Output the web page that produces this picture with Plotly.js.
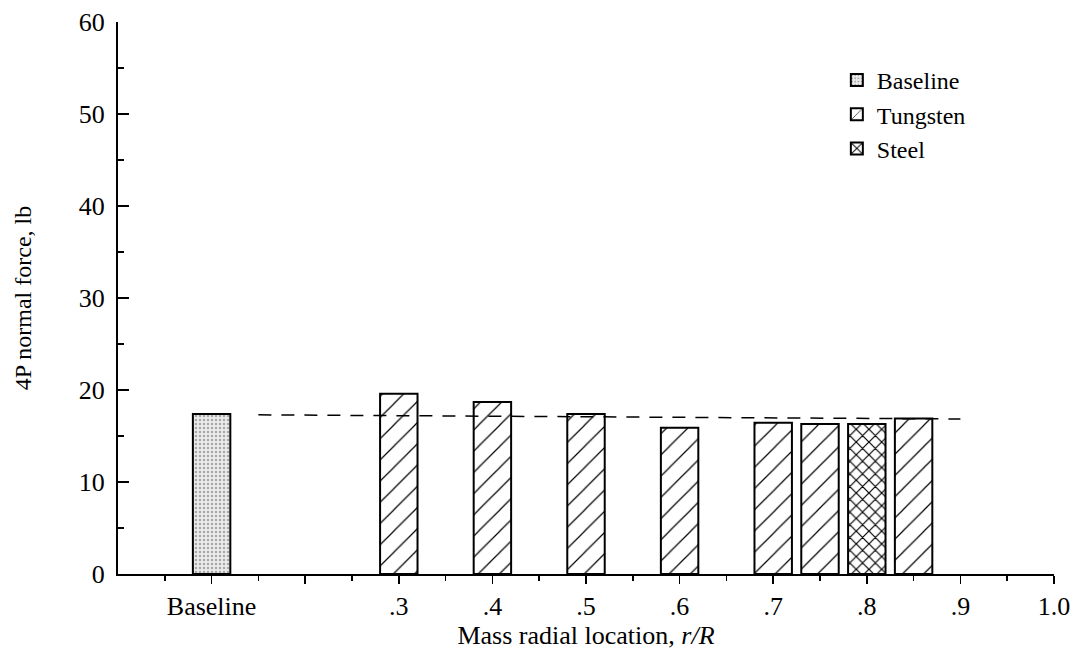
<!DOCTYPE html>
<html>
<head>
<meta charset="utf-8">
<script src="https://cdn.plot.ly/plotly-3.0.1.min.js"></script>
<style>html,body{margin:0;padding:0;background:#fff;}#chart{width:1078px;height:654px;}</style>
</head>
<body>
<div id="chart"></div>
<script>
// Data
const baselineX = [0.1];
const baselineY = [17.4];
const tungstenX = [0.3, 0.4, 0.5, 0.6, 0.7, 0.75, 0.85];
const tungstenY = [19.6, 18.7, 17.4, 15.9, 16.45, 16.3, 16.9];
const steelX = [0.8];
const steelY = [16.3];
const refLineX = [0.15, 0.9];
const refLineY = [17.3, 16.85];
const xTickVals = [0.1, 0.2, 0.3, 0.4, 0.5, 0.6, 0.7, 0.8, 0.9, 1.0];
const xTickText = ['Baseline', '', '.3', '.4', '.5', '.6', '.7', '.8', '.9', '1.0'];
const yTickVals = [0, 10, 20, 30, 40, 50, 60];

const FONT = 'Liberation Serif, Times New Roman, serif';
const barLine = {color: '#000', width: 2};

const traces = [
  {
    type: 'bar', name: 'Baseline', x: baselineX, y: baselineY, width: 0.04,
    marker: {color: '#e8e8e8', line: barLine,
      pattern: {shape: '.', fgcolor: '#a8a8a8', bgcolor: '#ececec', size: 4, solidity: 0.3}}
  },
  {
    type: 'bar', name: 'Tungsten', x: tungstenX, y: tungstenY, width: 0.04,
    marker: {color: '#fff', line: barLine,
      pattern: {shape: '/', fgcolor: '#000', bgcolor: '#fff', size: 15, solidity: 0.08}}
  },
  {
    type: 'bar', name: 'Steel', x: steelX, y: steelY, width: 0.04,
    marker: {color: '#fff', line: barLine,
      pattern: {shape: 'x', fgcolor: '#000', bgcolor: '#fff', size: 9, solidity: 0.25}}
  },
  {
    type: 'scatter', mode: 'lines', x: refLineX, y: refLineY, showlegend: false,
    line: {color: '#000', width: 1.5, dash: '13px,10px'}, hoverinfo: 'skip'
  }
];

const layout = {
  width: 1078, height: 654,
  margin: {l: 118, r: 24, t: 22, b: 80},
  paper_bgcolor: '#fff', plot_bgcolor: '#fff',
  font: {family: FONT, color: '#000', size: 24},
  barmode: 'overlay',
  showlegend: true,
  legend: {x: 0.768, y: 0.935, xanchor: 'left', yanchor: 'top', bgcolor: 'rgba(0,0,0,0)',
    font: {family: FONT, size: 24, color: '#000'}, traceorder: 'normal', itemwidth: 30},
  xaxis: {
    range: [0, 1.0], showgrid: false, zeroline: false,
    showline: true, linecolor: '#000', linewidth: 2,
    tickmode: 'array', tickvals: xTickVals, ticktext: xTickText,
    ticks: 'outside', ticklen: 8, tickwidth: 1.5, tickcolor: '#000',
    tickfont: {family: FONT, size: 26, color: '#000'},
    minor: {tickmode: 'linear', tick0: 0.05, dtick: 0.1, ticks: 'outside', ticklen: 5, tickwidth: 1.5, tickcolor: '#000', showgrid: false},
    title: {text: 'Mass radial location, <i>r/R</i>', font: {family: FONT, size: 26, color: '#000'}, standoff: 3}
  },
  yaxis: {
    range: [0, 60], showgrid: false, zeroline: false,
    showline: true, linecolor: '#000', linewidth: 2,
    tickmode: 'array', tickvals: yTickVals,
    ticks: 'inside', ticklen: 11, tickwidth: 1.5, tickcolor: '#000',
    tickfont: {family: FONT, size: 26, color: '#000'},
    ticklabelstandoff: 6,
    minor: {tickmode: 'linear', tick0: 5, dtick: 10, ticks: 'inside', ticklen: 6, tickwidth: 1.5, tickcolor: '#000', showgrid: false},
    title: {text: '4P normal force, lb', font: {family: FONT, size: 24, color: '#000'}, standoff: 40}
  }
};

Plotly.newPlot('chart', traces, layout, {displayModeBar: false, staticPlot: true});
</script>
</body>
</html>
